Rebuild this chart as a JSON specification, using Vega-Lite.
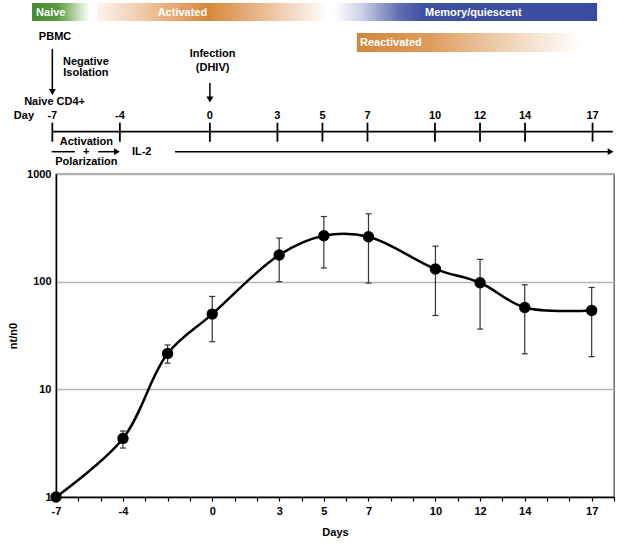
{
  "$schema": "https://vega.github.io/schema/vega-lite/v6.json",
  "width": 558,
  "height": 323,
  "autosize": {"type": "none"},
  "padding": {"left": 56, "top": 174, "right": 10, "bottom": 48},
  "background": "white",
  "config": {
    "view": {"stroke": "#555", "strokeWidth": 1.3},
    "text": {"font": "Liberation Sans", "fontWeight": "bold", "fontSize": 11}
  },
  "datasets": {
    "growth": [
      {"day": -7, "v": 1, "lo": null, "hi": null},
      {"day": -4, "v": 3.5, "lo": 2.85, "hi": 4.1},
      {"day": -2, "v": 21.5, "lo": 17.5, "hi": 25.8},
      {"day": 0, "v": 50, "lo": 27.7, "hi": 72.9},
      {"day": 3, "v": 177, "lo": 100, "hi": 254},
      {"day": 5, "v": 267, "lo": 134, "hi": 403},
      {"day": 7, "v": 261, "lo": 97, "hi": 427},
      {"day": 10, "v": 131, "lo": 48.5, "hi": 214},
      {"day": 12, "v": 97.7, "lo": 36.3, "hi": 161},
      {"day": 14, "v": 57.6, "lo": 21.4, "hi": 93.5},
      {"day": 17, "v": 54, "lo": 20.1, "hi": 88.3}
    ],
    "phases": [
      {"phase": "Naive", "start": -7.9, "end": -5.33, "mid": -7.07},
      {"phase": "Activated", "start": -5.01, "end": 5.25, "mid": -1.22},
      {"phase": "Memory/quiescent", "start": 5.47, "end": 17.2, "mid": 11.7},
      {"phase": "Reactivated", "start": 6.53, "end": 17.33, "mid": 8.04}
    ],
    "timeline": [
      {"day": -7, "label": "-7"}, {"day": -4, "label": "-4"}, {"day": 0, "label": "0"},
      {"day": 3, "label": "3"}, {"day": 5, "label": "5"}, {"day": 7, "label": "7"},
      {"day": 10, "label": "10"}, {"day": 12, "label": "12"}, {"day": 14, "label": "14"},
      {"day": 17, "label": "17"}
    ]
  },
  "layer": [
    {
      "data": {"name": "growth"},
      "encoding": {
        "x": {
          "field": "day", "type": "quantitative",
          "scale": {"domain": [-7, 18], "nice": false, "zero": false},
          "axis": {
            "values": [-7,-6,-5,-4,-3,-2,-1,0,1,2,3,4,5,6,7,8,9,10,11,12,13,14,15,16,17,18],
            "labelExpr": "indexof([-7,-4,0,3,5,7,10,12,14,17], datum.value) >= 0 ? '' + datum.value : ''",
            "title": "Days", "grid": false,
            "domainColor": "#000", "domainWidth": 1.5,
            "tickColor": "#000", "tickSize": 4, "tickWidth": 1.2,
            "labelPadding": 4, "labelFont": "Liberation Sans", "labelFontSize": 11, "labelFontWeight": "bold", "labelColor": "#000",
            "labelFlush": false, "labelOverlap": false,
            "titleFont": "Liberation Sans", "titleFontSize": 11, "titleFontWeight": "bold", "titleColor": "#000", "titlePadding": 10
          }
        }
      },
      "layer": [
        {
          "transform": [{"filter": "isValid(datum.lo)"}],
          "mark": {"type": "rule", "color": "#333", "strokeWidth": 1.2},
          "encoding": {
            "y": {"field": "lo", "type": "quantitative", "scale": {"type": "log", "domain": [1, 1000], "nice": false},
              "axis": {"values": [1, 10, 100, 1000], "labelExpr": "'' + datum.value", "title": "nt/n0", "grid": true, "gridColor": "#b5b5b5", "gridWidth": 1.5, "domainColor": "#000", "domainWidth": 1.5, "ticks": false, "labelPadding": 5, "labelFont": "Liberation Sans", "labelFontSize": 11, "labelFontWeight": "bold", "labelColor": "#000", "titleFont": "Liberation Sans", "titleFontSize": 11, "titleFontWeight": "bold", "titleColor": "#000", "titlePadding": 8}},
            "y2": {"field": "hi"}
          }
        },
        {
          "transform": [{"filter": "isValid(datum.lo)"}],
          "mark": {"type": "tick", "orient": "horizontal", "color": "#333", "size": 6, "thickness": 1.2, "opacity": 1},
          "encoding": {
            "y": {"field": "lo", "type": "quantitative", "scale": {"type": "log", "domain": [1, 1000], "nice": false},
              "axis": {"values": [1, 10, 100, 1000], "labelExpr": "'' + datum.value", "title": "nt/n0", "grid": true, "gridColor": "#b5b5b5", "gridWidth": 1.5, "domainColor": "#000", "domainWidth": 1.5, "ticks": false, "labelPadding": 5, "labelFont": "Liberation Sans", "labelFontSize": 11, "labelFontWeight": "bold", "labelColor": "#000", "titleFont": "Liberation Sans", "titleFontSize": 11, "titleFontWeight": "bold", "titleColor": "#000", "titlePadding": 8}}
          }
        },
        {
          "transform": [{"filter": "isValid(datum.hi)"}],
          "mark": {"type": "tick", "orient": "horizontal", "color": "#333", "size": 6, "thickness": 1.2, "opacity": 1},
          "encoding": {
            "y": {"field": "hi", "type": "quantitative", "scale": {"type": "log", "domain": [1, 1000], "nice": false},
              "axis": {"values": [1, 10, 100, 1000], "labelExpr": "'' + datum.value", "title": "nt/n0", "grid": true, "gridColor": "#b5b5b5", "gridWidth": 1.5, "domainColor": "#000", "domainWidth": 1.5, "ticks": false, "labelPadding": 5, "labelFont": "Liberation Sans", "labelFontSize": 11, "labelFontWeight": "bold", "labelColor": "#000", "titleFont": "Liberation Sans", "titleFontSize": 11, "titleFontWeight": "bold", "titleColor": "#000", "titlePadding": 8}}
          }
        },
        {
          "mark": {"type": "line", "interpolate": "catmull-rom", "color": "#000", "strokeWidth": 2.5},
          "encoding": {
            "y": {"field": "v", "type": "quantitative", "scale": {"type": "log", "domain": [1, 1000], "nice": false},
              "axis": {"values": [1, 10, 100, 1000], "labelExpr": "'' + datum.value", "title": "nt/n0", "grid": true, "gridColor": "#b5b5b5", "gridWidth": 1.5, "domainColor": "#000", "domainWidth": 1.5, "ticks": false, "labelPadding": 5, "labelFont": "Liberation Sans", "labelFontSize": 11, "labelFontWeight": "bold", "labelColor": "#000", "titleFont": "Liberation Sans", "titleFontSize": 11, "titleFontWeight": "bold", "titleColor": "#000", "titlePadding": 8}}
          }
        },
        {
          "mark": {"type": "point", "shape": "circle", "filled": true, "color": "#000", "size": 130, "opacity": 1},
          "encoding": {
            "y": {"field": "v", "type": "quantitative", "scale": {"type": "log", "domain": [1, 1000], "nice": false},
              "axis": {"values": [1, 10, 100, 1000], "labelExpr": "'' + datum.value", "title": "nt/n0", "grid": true, "gridColor": "#b5b5b5", "gridWidth": 1.5, "domainColor": "#000", "domainWidth": 1.5, "ticks": false, "labelPadding": 5, "labelFont": "Liberation Sans", "labelFontSize": 11, "labelFontWeight": "bold", "labelColor": "#000", "titleFont": "Liberation Sans", "titleFontSize": 11, "titleFontWeight": "bold", "titleColor": "#000", "titlePadding": 8}}
          }
        }
      ]
    },
    {
      "layer": [
        {
          "data": {"name": "phases"},
          "transform": [{"filter": "datum.phase == 'Naive'"}],
          "mark": {"type": "rect", "color": {"gradient": "linear", "x1": 0, "x2": 1, "y1": 0, "y2": 0, "stops": [
            {"offset": 0, "color": "#438a2c"}, {"offset": 0.45, "color": "#5a9a42"}, {"offset": 0.75, "color": "#b7d6a8"}, {"offset": 1, "color": "#ffffff"}]}},
          "encoding": {
            "x": {"field": "start", "type": "quantitative", "scale": {"domain": [-6.837, 17.952], "nice": false, "zero": false}, "axis": null},
            "x2": {"field": "end"},
            "y": {"datum": 3, "type": "quantitative", "scale": {"domain": [174, 497], "reverse": true, "nice": false, "zero": false}, "axis": null},
            "y2": {"datum": 21}
          }
        },
        {
          "data": {"name": "phases"},
          "transform": [{"filter": "datum.phase == 'Activated'"}],
          "mark": {"type": "rect", "color": {"gradient": "linear", "x1": 0, "x2": 1, "y1": 0, "y2": 0, "stops": [
            {"offset": 0, "color": "#fdf4ee"}, {"offset": 0.2, "color": "#f0c9a5"}, {"offset": 0.48, "color": "#d8873a"}, {"offset": 0.75, "color": "#ecc39f"}, {"offset": 1, "color": "#ffffff"}]}},
          "encoding": {
            "x": {"field": "start", "type": "quantitative", "scale": {"domain": [-6.837, 17.952], "nice": false, "zero": false}, "axis": null},
            "x2": {"field": "end"},
            "y": {"datum": 3, "type": "quantitative", "scale": {"domain": [174, 497], "reverse": true, "nice": false, "zero": false}, "axis": null},
            "y2": {"datum": 21}
          }
        },
        {
          "data": {"name": "phases"},
          "transform": [{"filter": "datum.phase == 'Memory/quiescent'"}],
          "mark": {"type": "rect", "color": {"gradient": "linear", "x1": 0, "x2": 1, "y1": 0, "y2": 0, "stops": [
            {"offset": 0, "color": "#ffffff"}, {"offset": 0.1, "color": "#d3d6ea"}, {"offset": 0.25, "color": "#5f6db0"}, {"offset": 0.35, "color": "#3d4fa0"}, {"offset": 1, "color": "#3a4c9f"}]}},
          "encoding": {
            "x": {"field": "start", "type": "quantitative", "scale": {"domain": [-6.837, 17.952], "nice": false, "zero": false}, "axis": null},
            "x2": {"field": "end"},
            "y": {"datum": 3, "type": "quantitative", "scale": {"domain": [174, 497], "reverse": true, "nice": false, "zero": false}, "axis": null},
            "y2": {"datum": 21}
          }
        },
        {
          "data": {"name": "phases"},
          "transform": [{"filter": "datum.phase == 'Reactivated'"}],
          "mark": {"type": "rect", "color": {"gradient": "linear", "x1": 0, "x2": 1, "y1": 0, "y2": 0, "stops": [
            {"offset": 0, "color": "#d4873b"}, {"offset": 0.3, "color": "#dd9c5c"}, {"offset": 0.6, "color": "#efd0b2"}, {"offset": 0.92, "color": "#ffffff"}, {"offset": 1, "color": "#ffffff"}]}},
          "encoding": {
            "x": {"field": "start", "type": "quantitative", "scale": {"domain": [-6.837, 17.952], "nice": false, "zero": false}, "axis": null},
            "x2": {"field": "end"},
            "y": {"datum": 33, "type": "quantitative", "scale": {"domain": [174, 497], "reverse": true, "nice": false, "zero": false}, "axis": null},
            "y2": {"datum": 52}
          }
        },
        {
          "data": {"name": "phases"},
          "transform": [{"filter": "datum.phase != 'Reactivated'"}],
          "mark": {"type": "text", "color": "#ffffff", "align": "center", "baseline": "middle"},
          "encoding": {
            "x": {"field": "mid", "type": "quantitative", "scale": {"domain": [-6.837, 17.952], "nice": false, "zero": false}, "axis": null},
            "y": {"datum": 12.5, "type": "quantitative", "scale": {"domain": [174, 497], "reverse": true, "nice": false, "zero": false}, "axis": null},
            "text": {"field": "phase"}
          }
        },
        {
          "data": {"name": "phases"},
          "transform": [{"filter": "datum.phase == 'Reactivated'"}],
          "mark": {"type": "text", "color": "#ffffff", "align": "center", "baseline": "middle"},
          "encoding": {
            "x": {"field": "mid", "type": "quantitative", "scale": {"domain": [-6.837, 17.952], "nice": false, "zero": false}, "axis": null},
            "y": {"datum": 43, "type": "quantitative", "scale": {"domain": [174, 497], "reverse": true, "nice": false, "zero": false}, "axis": null},
            "text": {"field": "phase"}
          }
        },
        {
          "data": {"values": [{"day": -6.88, "label": "PBMC"}]},
          "mark": {"type": "text", "color": "#000", "align": "center", "baseline": "middle"},
          "encoding": {
            "x": {"field": "day", "type": "quantitative", "scale": {"domain": [-6.837, 17.952], "nice": false, "zero": false}, "axis": null},
            "y": {"datum": 37, "type": "quantitative", "scale": {"domain": [174, 497], "reverse": true, "nice": false, "zero": false}, "axis": null},
            "text": {"field": "label"}
          }
        },
        {
          "data": {"values": [{"day": -5.51, "label": "Negative\nIsolation"}]},
          "mark": {"type": "text", "color": "#000", "align": "center", "baseline": "middle", "lineBreak": "\n", "lineHeight": 11.6},
          "encoding": {
            "x": {"field": "day", "type": "quantitative", "scale": {"domain": [-6.837, 17.952], "nice": false, "zero": false}, "axis": null},
            "y": {"datum": 61.7, "type": "quantitative", "scale": {"domain": [174, 497], "reverse": true, "nice": false, "zero": false}, "axis": null},
            "text": {"field": "label"}
          }
        },
        {
          "data": {"values": [{"day": 0.12, "label": "Infection\n(DHIV)"}]},
          "mark": {"type": "text", "color": "#000", "align": "center", "baseline": "middle", "lineBreak": "\n", "lineHeight": 14},
          "encoding": {
            "x": {"field": "day", "type": "quantitative", "scale": {"domain": [-6.837, 17.952], "nice": false, "zero": false}, "axis": null},
            "y": {"datum": 54.3, "type": "quantitative", "scale": {"domain": [174, 497], "reverse": true, "nice": false, "zero": false}, "axis": null},
            "text": {"field": "label"}
          }
        },
        {
          "data": {"values": [{"day": -6.9, "label": "Naive CD4+"}]},
          "mark": {"type": "text", "color": "#000", "align": "center", "baseline": "middle"},
          "encoding": {
            "x": {"field": "day", "type": "quantitative", "scale": {"domain": [-6.837, 17.952], "nice": false, "zero": false}, "axis": null},
            "y": {"datum": 101.7, "type": "quantitative", "scale": {"domain": [174, 497], "reverse": true, "nice": false, "zero": false}, "axis": null},
            "text": {"field": "label"}
          }
        },
        {
          "data": {"values": [{"day": -8.26, "label": "Day"}, {"day": -7, "label": "-7"}, {"day": -4, "label": "-4"}, {"day": 0, "label": "0"}, {"day": 3, "label": "3"}, {"day": 5, "label": "5"}, {"day": 7, "label": "7"}, {"day": 10, "label": "10"}, {"day": 12, "label": "12"}, {"day": 14, "label": "14"}, {"day": 17, "label": "17"}]},
          "mark": {"type": "text", "color": "#000", "align": "center", "baseline": "middle"},
          "encoding": {
            "x": {"field": "day", "type": "quantitative", "scale": {"domain": [-6.837, 17.952], "nice": false, "zero": false}, "axis": null},
            "y": {"datum": 115.5, "type": "quantitative", "scale": {"domain": [174, 497], "reverse": true, "nice": false, "zero": false}, "axis": null},
            "text": {"field": "label"}
          }
        },
        {
          "data": {"values": [{"day": -5.49, "label": "Activation\n+\nPolarization"}]},
          "mark": {"type": "text", "color": "#000", "align": "center", "baseline": "middle", "lineBreak": "\n", "lineHeight": 10},
          "encoding": {
            "x": {"field": "day", "type": "quantitative", "scale": {"domain": [-6.837, 17.952], "nice": false, "zero": false}, "axis": null},
            "y": {"datum": 141.7, "type": "quantitative", "scale": {"domain": [174, 497], "reverse": true, "nice": false, "zero": false}, "axis": null},
            "text": {"field": "label"}
          }
        },
        {
          "data": {"values": [{"day": -3.03, "label": "IL-2"}]},
          "mark": {"type": "text", "color": "#000", "align": "center", "baseline": "middle"},
          "encoding": {
            "x": {"field": "day", "type": "quantitative", "scale": {"domain": [-6.837, 17.952], "nice": false, "zero": false}, "axis": null},
            "y": {"datum": 151.7, "type": "quantitative", "scale": {"domain": [174, 497], "reverse": true, "nice": false, "zero": false}, "axis": null},
            "text": {"field": "label"}
          }
        },
        {
          "data": {"values": [{"day": -7}]},
          "mark": {"type": "rule", "color": "#000", "strokeWidth": 1.5},
          "encoding": {
            "x": {"field": "day", "type": "quantitative", "scale": {"domain": [-6.837, 17.952], "nice": false, "zero": false}, "axis": null},
            "y": {"datum": 49, "type": "quantitative", "scale": {"domain": [174, 497], "reverse": true, "nice": false, "zero": false}, "axis": null},
            "y2": {"datum": 91}
          }
        },
        {
          "data": {"values": [{"day": -7}]},
          "mark": {"type": "point", "shape": "triangle-down", "filled": true, "color": "#000", "size": 50, "opacity": 1},
          "encoding": {
            "x": {"field": "day", "type": "quantitative", "scale": {"domain": [-6.837, 17.952], "nice": false, "zero": false}, "axis": null},
            "y": {"datum": 92, "type": "quantitative", "scale": {"domain": [174, 497], "reverse": true, "nice": false, "zero": false}, "axis": null}
          }
        },
        {
          "data": {"values": [{"day": 0}]},
          "mark": {"type": "rule", "color": "#000", "strokeWidth": 1.5},
          "encoding": {
            "x": {"field": "day", "type": "quantitative", "scale": {"domain": [-6.837, 17.952], "nice": false, "zero": false}, "axis": null},
            "y": {"datum": 83, "type": "quantitative", "scale": {"domain": [174, 497], "reverse": true, "nice": false, "zero": false}, "axis": null},
            "y2": {"datum": 98}
          }
        },
        {
          "data": {"values": [{"day": 0}]},
          "mark": {"type": "point", "shape": "triangle-down", "filled": true, "color": "#000", "size": 50, "opacity": 1},
          "encoding": {
            "x": {"field": "day", "type": "quantitative", "scale": {"domain": [-6.837, 17.952], "nice": false, "zero": false}, "axis": null},
            "y": {"datum": 99.5, "type": "quantitative", "scale": {"domain": [174, 497], "reverse": true, "nice": false, "zero": false}, "axis": null}
          }
        },
        {
          "data": {"values": [{"start": -7, "end": 17.9}]},
          "mark": {"type": "rule", "color": "#000", "strokeWidth": 1.8},
          "encoding": {
            "x": {"field": "start", "type": "quantitative", "scale": {"domain": [-6.837, 17.952], "nice": false, "zero": false}, "axis": null},
            "x2": {"field": "end"},
            "y": {"datum": 131.7, "type": "quantitative", "scale": {"domain": [174, 497], "reverse": true, "nice": false, "zero": false}, "axis": null}
          }
        },
        {
          "data": {"name": "timeline"},
          "mark": {"type": "rule", "color": "#000", "strokeWidth": 1.8},
          "encoding": {
            "x": {"field": "day", "type": "quantitative", "scale": {"domain": [-6.837, 17.952], "nice": false, "zero": false}, "axis": null},
            "y": {"datum": 122.7, "type": "quantitative", "scale": {"domain": [174, 497], "reverse": true, "nice": false, "zero": false}, "axis": null},
            "y2": {"datum": 141.7}
          }
        },
        {
          "data": {"values": [{"start": -7.03, "end": -6.0}, {"start": -4.96, "end": -4.1}, {"start": -1.55, "end": 17.78}]},
          "mark": {"type": "rule", "color": "#000", "strokeWidth": 1.5},
          "encoding": {
            "x": {"field": "start", "type": "quantitative", "scale": {"domain": [-6.837, 17.952], "nice": false, "zero": false}, "axis": null},
            "x2": {"field": "end"},
            "y": {"datum": 151.7, "type": "quantitative", "scale": {"domain": [174, 497], "reverse": true, "nice": false, "zero": false}, "axis": null}
          }
        },
        {
          "data": {"values": [{"day": -4.13}, {"day": 17.8}]},
          "mark": {"type": "point", "shape": "triangle-right", "filled": true, "color": "#000", "size": 45, "opacity": 1},
          "encoding": {
            "x": {"field": "day", "type": "quantitative", "scale": {"domain": [-6.837, 17.952], "nice": false, "zero": false}, "axis": null},
            "y": {"datum": 151.7, "type": "quantitative", "scale": {"domain": [174, 497], "reverse": true, "nice": false, "zero": false}, "axis": null}
          }
        }
      ]
    }
  ],
  "resolve": {"scale": {"x": "independent", "y": "independent"}}
}
